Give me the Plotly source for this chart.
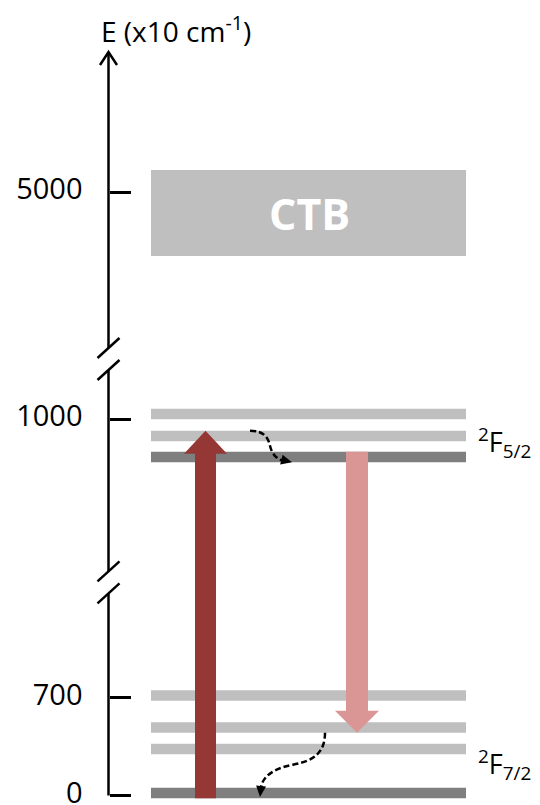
import numpy as np
import plotly.graph_objects as go

# ---------------- data (energies in units of x10 cm^-1) ----------------
tick_values = [0, 700, 1000, 5000]
tick_labels = ["0", "700", "1000", "5000"]
f72_levels = [0, 324, 483, 718]      # 2F7/2 Stark levels (lowest = dark)
f52_levels = [962, 983, 1005]        # 2F5/2 Stark levels (lowest = dark)
ctb_band = [4360, 5220]              # charge-transfer band
excitation = [0, 983]                # absorption arrow (from, to)
emission = [962, 483]                # emission arrow (from, to)
relax_upper = [983, 962]             # non-radiative relaxation in 2F5/2
relax_lower = [483, 0]               # non-radiative relaxation in 2F7/2
axis_breaks = [880, 1060]            # energies where the axis is broken

# ---------------- broken-axis scale: energy -> axis coordinate ----------------
E_BRK = [0, 850, 900, 1100, 4000, 6000]
Y_BRK = [793, 677.6, 519, 319, 292, 92]


def ey(E):
    return float(np.interp(E, E_BRK, Y_BRK))


VW, VH = 540, 805          # browser window
OFF = 8                    # default page margin of the html body
W, H = VW - OFF, VH - OFF  # figure size
LEVEL_X = (151, 466)
HALF = 5.25
LIGHT, DARK = "#BFBFBF", "#7F7F7F"
EXC_COL, EMI_COL = "#953735", "#DA9694"
FONT = "Open Sans"

fig = go.Figure()
shapes = []

# CTB box
shapes.append(dict(type="rect", xref="x", yref="y", layer="below",
                   x0=LEVEL_X[0], x1=LEVEL_X[1], y0=ey(ctb_band[1]), y1=ey(ctb_band[0]),
                   fillcolor=LIGHT, line=dict(width=0)))

# energy levels
for group in (f72_levels, f52_levels):
    for E in group:
        col = DARK if E == min(group) else LIGHT
        shapes.append(dict(type="rect", xref="x", yref="y", layer="below",
                           x0=LEVEL_X[0], x1=LEVEL_X[1], y0=ey(E) - HALF, y1=ey(E) + HALF,
                           fillcolor=col, line=dict(width=0)))


def vertical_arrow(xc, y_start, y_tip, shaft_w, head_w, head_h):
    d = 1 if y_tip > y_start else -1
    yb = y_tip - d * head_h
    xs = [xc - shaft_w / 2, xc - shaft_w / 2, xc - head_w / 2, xc, xc + head_w / 2,
          xc + shaft_w / 2, xc + shaft_w / 2, xc - shaft_w / 2]
    ys = [y_start, yb, yb, y_tip, yb, yb, y_start, y_start]
    return xs, ys


# excitation arrow (up)
xs, ys = vertical_arrow(205.5, ey(excitation[0]) + HALF, ey(excitation[1]) - HALF, 21, 43, 23)
fig.add_trace(go.Scatter(x=xs, y=ys, fill="toself", fillcolor=EXC_COL, mode="lines",
                         line=dict(width=0, color=EXC_COL), hoverinfo="skip", showlegend=False))
# emission arrow (down)
xs, ys = vertical_arrow(357, ey(emission[0]) - HALF, ey(emission[1]) + HALF, 22, 44, 22)
fig.add_trace(go.Scatter(x=xs, y=ys, fill="toself", fillcolor=EMI_COL, mode="lines",
                         line=dict(width=0, color=EMI_COL), hoverinfo="skip", showlegend=False))


def head(tip, direction, length=10, half_w=4.5):
    d = np.array(direction, float)
    d /= np.linalg.norm(d)
    n = np.array([-d[1], d[0]])
    t = np.array(tip, float)
    b = t - d * length
    p1, p2 = b + n * half_w, b - n * half_w
    return [t[0], p1[0], p2[0], t[0]], [t[1], p1[1], p2[1], t[1]]


DASH = dict(color="black", width=2.5, dash="6px,3px")

# upper relaxation (dashed, curved)
y0 = ey(relax_upper[0]) - HALF
y1 = ey(relax_upper[1]) + HALF
x0, x1 = 250, 292
path_u = (f"M {x0},{y0} C {x0+13},{y0} {x0+18},{y0+6} {x0+20},{y0+15} "
          f"C {x0+22},{y0+24} {x0+28},{y1-2} {x1-9},{y1-2}")
shapes.append(dict(type="path", xref="x", yref="y", path=path_u, line=DASH))
hx, hy = head((x1, y1), (1, 0.25), length=11, half_w=5)
fig.add_trace(go.Scatter(x=hx, y=hy, fill="toself", fillcolor="black", mode="lines",
                         line=dict(width=0, color="black"), hoverinfo="skip", showlegend=False))

# lower relaxation (dashed, curved)
y0 = ey(relax_lower[0]) + HALF
y1 = ey(relax_lower[1]) + 4
x0, x1 = 325, 260
path_l = (f"M {x0},{y0} C {x0},{y0+19} {x0-10},{y0+28} {x0-32},{y0+32} "
          f"C {x0-53},{y0+36} {x1+2},{y0+45} {x1+1},{y1-9}")
shapes.append(dict(type="path", xref="x", yref="y", path=path_l, line=DASH))
hx, hy = head((x1, y1), (-0.1, 1), length=11, half_w=5)
fig.add_trace(go.Scatter(x=hx, y=hy, fill="toself", fillcolor="black", mode="lines",
                         line=dict(width=0, color="black"), hoverinfo="skip", showlegend=False))

# ---------------- hand-drawn broken axis line ----------------
AX = 108.5
y_top = 52
y_bot = ey(0) + 2.5
gaps = [ey(b) for b in axis_breaks]   # centres of the breaks (axis coords)
gh = 11
segs = [(y_top, gaps[1] - gh), (gaps[1] + gh, gaps[0] - gh), (gaps[0] + gh, y_bot)]
for a, b in segs:
    shapes.append(dict(type="line", xref="x", yref="y", x0=AX, x1=AX, y0=a, y1=b,
                       line=dict(color="black", width=2.5)))
for g in gaps:
    for c in (g - gh, g + gh):
        shapes.append(dict(type="line", xref="x", yref="y", x0=AX - 11, x1=AX + 11,
                           y0=c + 10, y1=c - 10, line=dict(color="black", width=2.5)))
# arrow head of the axis
shapes.append(dict(type="path", xref="x", yref="y",
                   path=f"M {AX-8.5},{y_top+13} L {AX},{y_top} L {AX+8.5},{y_top+13}",
                   line=dict(color="black", width=2.5)))

fig.update_layout(shapes=shapes)

# ---------------- texts ----------------
ann = []
ann.append(dict(x=309, y=ey(sum(ctb_band) / 2), text="<b>CTB</b>", showarrow=False,
                font=dict(family=FONT, size=43, color="white"),
                xanchor="center", yanchor="middle"))
ann.append(dict(x=99, y=29, text="E (x10 cm<sup>-1</sup>)", showarrow=False,
                font=dict(family=FONT, size=28, color="black"),
                xanchor="left", yanchor="middle"))
ann.append(dict(x=476, y=ey(min(f52_levels)) - 15, text="<sup>2</sup>F<sub>5/2</sub>",
                showarrow=False, font=dict(family=FONT, size=27, color="black"),
                xanchor="left", yanchor="middle"))
ann.append(dict(x=476, y=ey(min(f72_levels)) - 29, text="<sup>2</sup>F<sub>7/2</sub>",
                showarrow=False, font=dict(family=FONT, size=27, color="black"),
                xanchor="left", yanchor="middle"))
for a in ann:
    a.update(xref="x", yref="y")
fig.update_layout(annotations=ann)

fig.update_layout(
    width=W, height=H,
    margin=dict(l=0, r=0, t=0, b=0, autoexpand=False),
    paper_bgcolor="white", plot_bgcolor="white",
    showlegend=False,
    xaxis=dict(range=[OFF, VW], visible=False, fixedrange=True, domain=[0, 1],
               automargin=False),
    yaxis=dict(range=[VH, OFF], tickvals=[ey(v) + (2.5 if v == 0 else 0) for v in tick_values],
               ticktext=tick_labels, automargin=False,
               ticks="inside", ticklen=21, tickwidth=2.5, tickcolor="black",
               showline=False, showgrid=False, zeroline=False,
               anchor="free", position=(AX - OFF) / W, side="left",
               ticklabelstandoff=26, ticklabelshift=3, ticklabeloverflow="allow",
               fixedrange=True,
               tickfont=dict(family=FONT, size=29, color="black")),
)

fig.write_html("out.html", config={"displayModeBar": False})
